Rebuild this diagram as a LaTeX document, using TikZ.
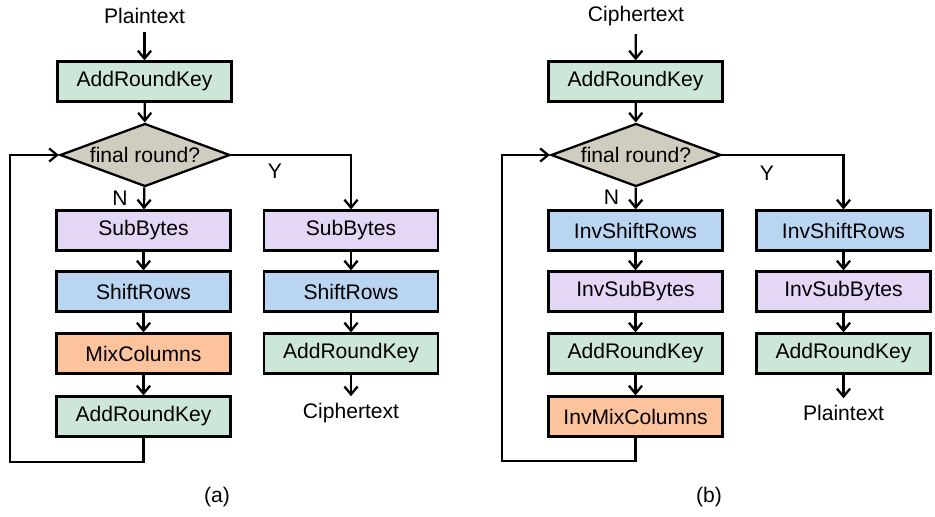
\documentclass[tikz,border=0pt]{standalone}
\usepackage{fontspec}
\setmainfont{Liberation Sans}
\usepackage{tikz}
\usetikzlibrary{arrows.meta,shapes.geometric}
\definecolor{keygreen}{HTML}{CCE6D7}
\definecolor{subpurple}{HTML}{E4D6F5}
\definecolor{rowblue}{HTML}{BAD5F2}
\definecolor{mixorange}{HTML}{FDC39D}
\definecolor{decgray}{HTML}{D0CCBF}

\begin{document}
\begin{tikzpicture}[every path/.style={line width=1.3pt}, font=\fontsize{12}{14}\selectfont]

        \tikzset{stage/.style = {shape=rectangle,draw,minimum width=3.48cm,minimum height=0.8cm,inner sep=0pt}}
        \tikzset{decide/.style = {shape=diamond,draw,fill=decgray,aspect=2.7,minimum width=3.4cm,minimum height=1.26cm,inner sep=1pt}}
        \tikzset{edge/.style = {-{Straight Barb[length=4.5pt,width=7.5pt]}}}

        \useasboundingbox (0,0) rectangle (18.7,-10.32);

        % (a) encryption
        \node[inner sep=4pt] (pa) at (2.89,-0.32) {Plaintext};
        \node[stage,fill=keygreen] (ka) at (2.89,-1.63) {AddRoundKey};
        \node[decide] (da) at (2.9,-3.1) {final round?};
        \node[stage,fill=subpurple] (sa1) at (2.87,-4.61) {SubBytes};
        \node[stage,fill=rowblue] (ra1) at (2.87,-5.83) {ShiftRows};
        \node[stage,fill=mixorange] (ma1) at (2.87,-7.07) {MixColumns};
        \node[stage,fill=keygreen] (ka1) at (2.87,-8.33) {AddRoundKey};
        \node[stage,fill=subpurple] (sa2) at (7.02,-4.61) {SubBytes};
        \node[stage,fill=rowblue] (ra2) at (7.02,-5.83) {ShiftRows};
        \node[stage,fill=keygreen] (ka2) at (7.02,-7.07) {AddRoundKey};
        \node (ca) at (7.02,-8.26) {Ciphertext};
        \node (na) at (2.4,-3.96) {N};
        \node (ya) at (5.5,-3.42) {Y};
        \node (la) at (4.34,-9.94) {(a)};
        \coordinate (lpa) at (0.2,-9.24);

        \draw[edge] (pa) to (ka);
        \draw[edge] (ka) to (da);
        \draw[edge] (da) to (sa1);
        \draw[edge] (sa1) to (ra1);
        \draw[edge] (ra1) to (ma1);
        \draw[edge] (ma1) to (ka1);
        \draw[edge] (ka1.south) |- (lpa) |- (da.west);
        \draw[edge] (da.east) -| (sa2.north);
        \draw[edge] (sa2) to (ra2);
        \draw[edge] (ra2) to (ka2);
        \draw[edge] (ka2) to (ca);

        % (b) decryption
        \node[inner sep=4pt] (cb) at (12.72,-0.32) {Ciphertext};
        \node[stage,fill=keygreen] (kb) at (12.71,-1.63) {AddRoundKey};
        \node[decide] (db) at (12.72,-3.1) {final round?};
        \node[stage,fill=rowblue] (rb1) at (12.71,-4.61) {InvShiftRows};
        \node[stage,fill=subpurple] (sb1) at (12.71,-5.83) {InvSubBytes};
        \node[stage,fill=keygreen] (kb1) at (12.71,-7.07) {AddRoundKey};
        \node[stage,fill=mixorange] (mb1) at (12.71,-8.33) {InvMixColumns};
        \node[stage,fill=rowblue] (rb2) at (16.87,-4.61) {InvShiftRows};
        \node[stage,fill=subpurple] (sb2) at (16.87,-5.83) {InvSubBytes};
        \node[stage,fill=keygreen] (kb2) at (16.87,-7.07) {AddRoundKey};
        \node (pb) at (16.87,-8.26) {Plaintext};
        \node (nb) at (12.23,-3.94) {N};
        \node (yb) at (15.34,-3.46) {Y};
        \node (lb) at (14.18,-9.94) {(b)};
        \coordinate (lpb) at (10.04,-9.22);

        \draw[edge] (cb) to (kb);
        \draw[edge] (kb) to (db);
        \draw[edge] (db) to (rb1);
        \draw[edge] (rb1) to (sb1);
        \draw[edge] (sb1) to (kb1);
        \draw[edge] (kb1) to (mb1);
        \draw[edge] (mb1.south) |- (lpb) |- (db.west);
        \draw[edge] (db.east) -| (rb2.north);
        \draw[edge] (rb2) to (sb2);
        \draw[edge] (sb2) to (kb2);
        \draw[edge] (kb2) to (pb);
\end{tikzpicture}
\end{document}
